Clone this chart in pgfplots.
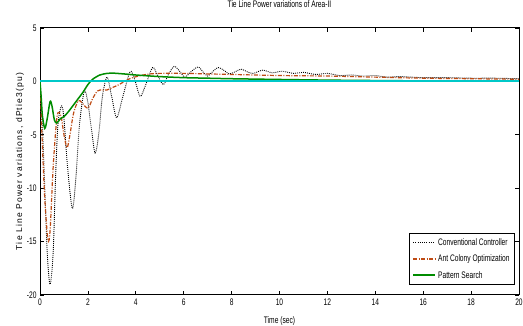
\documentclass[border=0pt]{standalone}
\usepackage{pgfplots}
\pgfplotsset{compat=1.18}
\usepackage{fontspec}
\setmainfont{Liberation Sans}[FakeStretch=0.7]
\newfontfamily\ylfont{Liberation Sans}[LetterSpace=14]
\definecolor{colACO}{RGB}{190,75,20}
\definecolor{colPS}{RGB}{0,140,0}
\definecolor{colCyan}{RGB}{0,200,200}
\begin{document}
\begin{tikzpicture}
\useasboundingbox (0,0) rectangle (523pt,326pt);
\begin{axis}[at={(40pt,31pt)}, anchor=south west, scale only axis,
  width=479pt, height=267pt,
  xmin=0, xmax=20, ymin=-20, ymax=5,
  xtick={0,2,...,20}, ytick={-20,-15,...,5},
  tick align=inside, major tick length=4pt,
  axis line style={line width=1pt},
  every tick/.style={black, line width=0.7pt},
  ticklabel style={font=\fontsize{9.5}{10}\selectfont},
  /pgf/number format/assume math mode=true,
  xlabel={Time (sec)},
  xlabel style={at={(rel axis cs:0.5,-0.097)}, anchor=center, inner sep=0pt, font=\fontsize{9.5}{10}\selectfont},
  ylabel={Tie Line Power variations, dPtie3(pu)},
  ylabel style={at={(rel axis cs:-0.0418,0.5)}, anchor=center, inner sep=0pt, font=\ylfont\fontsize{8.5}{10}\selectfont},
  title={Tie Line Power variations of Area-II},
  title style={at={(rel axis cs:0.5,1.067)}, anchor=center, inner sep=0pt, font=\fontsize{9.5}{10}\selectfont},
  legend style={at={(rel axis cs:0.9916,0.037)}, anchor=south east, draw=black, line width=0.9pt,
    font=\fontsize{9.5}{10}\selectfont, row sep=4pt, inner sep=3pt},
  legend cell align=left,
]
\addplot[color=black, line width=0.9pt, dash pattern=on 0.9pt off 1.1pt, smooth, tension=0.5,
  legend image code/.code={\draw[color=black, line width=1pt, dash pattern=on 1pt off 1.2pt] (0pt,0pt) -- (22pt,0pt);}] coordinates {
(0,0) (0.1,-4) (0.2,-10) (0.3,-16) (0.42,-19) (0.55,-16) (0.65,-9) (0.75,-4)
(0.9,-2.3) (1.0,-3.5) (1.15,-8) (1.35,-11.9) (1.5,-9) (1.65,-4) (1.85,-0.9)
(2.0,-2) (2.15,-4.5) (2.3,-6.7) (2.45,-5) (2.6,-1.5) (2.8,0.4) (3.0,-1.5)
(3.2,-3.4) (3.45,-1.5) (3.76,0.9) (3.95,0.2) (4.18,-1.4) (4.4,-0.4) (4.7,1.3)
(4.9,0.6) (5.15,-0.3) (5.35,0.6) (5.6,1.4) (5.85,0.9) (6.05,0.4) (6.3,0.9)
(6.6,1.35) (6.8,0.9) (7.0,0.5) (7.2,0.9) (7.45,1.3) (7.7,1.0) (7.9,0.7)
(8.15,0.9) (8.4,1.15) (8.65,0.9) (8.9,0.75) (9.3,1.05) (9.7,0.8) (10.1,0.95)
(10.6,0.75) (11.0,0.85) (11.5,0.65) (12,0.75) (12.5,0.55) (13,0.6) (13.5,0.5)
(14,0.55) (14.5,0.4) (15,0.45) (15.5,0.4) (16,0.35) (17,0.35) (18,0.3) (19,0.3) (20,0.25)
};
\addlegendentry{Conventional Controller}
\addplot[color=colACO, line width=1.2pt, dash pattern=on 4pt off 1.5pt on 1pt off 1.5pt, smooth, tension=0.5,
  legend image code/.code={\draw[color=colACO, line width=1.6pt, dash pattern=on 4pt off 1.5pt on 1pt off 1.5pt] (0pt,0pt) -- (22pt,0pt);}] coordinates {
(0,0) (0.1,-6) (0.2,-11) (0.33,-14.8) (0.42,-14) (0.55,-8) (0.7,-3.5) (0.8,-2.9)
(0.9,-3.5) (1.0,-5) (1.13,-6.2) (1.25,-5) (1.4,-3) (1.6,-1.8) (1.75,-2) (2.0,-2.5)
(2.2,-1.6) (2.4,-0.9) (2.6,-0.8) (2.8,-0.8) (3.0,-0.6) (3.3,-0.3) (3.6,0.1) (3.8,0.3)
(4.2,0.55) (4.6,0.7) (5.0,0.75) (6,0.75) (7,0.7) (8,0.65) (10,0.55) (12,0.5)
(14,0.4) (16,0.3) (18,0.25) (20,0.2)
};
\addlegendentry{Ant Colony Optimization}
\addplot[color=colPS, line width=1.5pt, smooth, tension=0.5,
  legend image code/.code={\draw[color=colPS, line width=2pt] (0pt,0pt) -- (22pt,0pt);}] coordinates {
(0,0) (0.05,-1.5) (0.1,-3.2) (0.2,-4.4) (0.3,-3.5) (0.42,-1.9) (0.5,-2.3) (0.6,-3.6)
(0.7,-3.9) (0.85,-3.5) (1.0,-3.3) (1.2,-2.8) (1.4,-2.2) (1.6,-1.6) (1.8,-1.0)
(2.0,-0.3) (2.2,0.2) (2.5,0.6) (2.8,0.75) (3.0,0.78) (3.5,0.7) (4.0,0.6) (5,0.45)
(6,0.35) (7,0.3) (8,0.25) (10,0.18) (12,0.12) (14,0.08) (16,0.05) (20,0.02)
};
\addlegendentry{Pattern Search}
\addplot[draw=colCyan, line width=1.8pt, forget plot] coordinates {(0,0) (20,0)};
\node[anchor=center, font=\fontsize{8.5}{9}\selectfont, inner sep=0pt] at (rel axis cs:0.0167,1.037) {x 10\textsuperscript{-3}};
\end{axis}
\end{tikzpicture}
\end{document}
